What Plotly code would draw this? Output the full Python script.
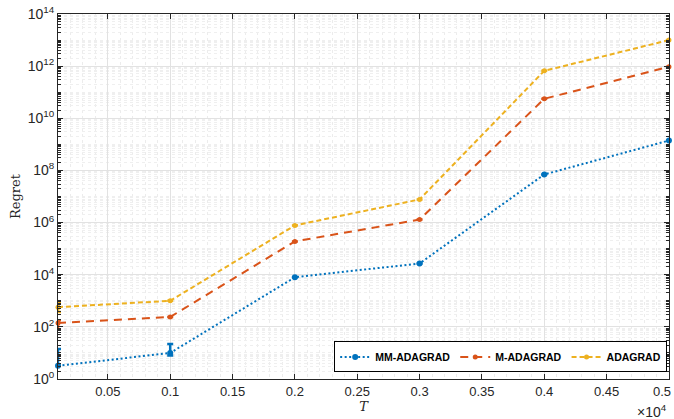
import plotly.graph_objects as go

T = [100, 1000, 2000, 3000, 4000, 5000]
mm_adagrad = [3.2, 10, 8e3, 2.7e4, 7e7, 1.4e9]
mm_err_plus = [11, 12, 0, 0, 0, 0]
mm_err_minus = [0, 2, 0, 0, 0, 0]
m_adagrad = [1.4e2, 2.4e2, 1.9e5, 1.3e6, 5.6e10, 9.4e11]
m_err_plus = [40, 0, 0, 0, 0, 0]
m_err_minus = [60, 0, 0, 0, 0, 0]
adagrad = [5.7e2, 1.0e3, 7.8e5, 7.7e6, 6.6e11, 1.0e13]
a_err_plus = [250, 0, 0, 0, 0, 0]
a_err_minus = [200, 0, 0, 0, 0, 0]

x_tickvals = [500, 1000, 1500, 2000, 2500, 3000, 3500, 4000, 4500, 5000]
x_ticktext = ["0.05", "0.1", "0.15", "0.2", "0.25", "0.3", "0.35", "0.4", "0.45", "0.5"]
y_exps = [0, 2, 4, 6, 8, 10, 12, 14]

colors = ["#0072BD", "#D95319", "#EDB120"]

fig = go.Figure()
series = [
    ("MM-ADAGRAD", mm_adagrad, mm_err_plus, mm_err_minus, colors[0], "2px,2.5px", 6),
    ("M-ADAGRAD", m_adagrad, m_err_plus, m_err_minus, colors[1], "8px,6px", 5),
    ("ADAGRAD", adagrad, a_err_plus, a_err_minus, colors[2], "5px,3px", 5),
]
for name, vals, ep, em, col, dash, ms in series:
    fig.add_trace(go.Scatter(
        x=T, y=vals, name=name, mode="lines+markers",
        line=dict(color=col, width=2, dash=dash),
        marker=dict(color=col, size=ms, symbol="circle"),
        error_y=dict(type="data", array=ep, arrayminus=em, symmetric=False,
                     color=col, thickness=2.5, width=3),
        cliponaxis=False,
    ))

minor_y = []
for e in range(0, 14):
    for k in range(2, 10):
        minor_y.append(k * 10 ** e)
    if e % 2 == 1:
        minor_y.append(10 ** e)

axis_col = "#262626"
fig.update_layout(
    width=674, height=419,
    margin=dict(l=58, r=4, t=12, b=40),
    plot_bgcolor="white", paper_bgcolor="white",
    font=dict(family="Liberation Sans, Arial, Helvetica", size=13, color=axis_col),
    showlegend=True,
    legend=dict(orientation="h", x=0.997, xanchor="right", y=0.018, yanchor="bottom",
                bgcolor="white", bordercolor="#000000", borderwidth=1,
                font=dict(family="Liberation Sans, Arial", size=10.5, color="#000000", weight="bold"),
                itemwidth=30, tracegroupgap=0),
    xaxis=dict(
        range=[100, 5000.5], tickvals=x_tickvals, ticktext=x_ticktext,
        showline=True, linecolor=axis_col, linewidth=1, mirror="ticks",
        ticks="inside", ticklen=5, tickcolor=axis_col,
        showgrid=True, gridcolor="#e2e2e2", gridwidth=1, zeroline=False,
        minor=dict(dtick=100, showgrid=True, gridcolor="#ececec", griddash="dot", ticks=""),
        title=dict(text="<i>T</i>", font=dict(family="DejaVu Serif, Liberation Serif", size=13), standoff=2),
        tickfont=dict(size=13),
    ),
    yaxis=dict(
        type="log", range=[0, 14],
        tickvals=[10 ** e for e in y_exps],
        ticktext=["10<sup>%d</sup>" % e for e in y_exps],
        showline=True, linecolor=axis_col, linewidth=1, mirror="ticks",
        ticks="inside", ticklen=5, tickcolor=axis_col,
        showgrid=True, gridcolor="#e2e2e2", gridwidth=1, zeroline=False,
        minor=dict(tickvals=minor_y, showgrid=True, gridcolor="#efefef", griddash="dot",
                   ticks="inside", ticklen=3, tickcolor=axis_col),
        title=dict(text="Regret", font=dict(family="DejaVu Serif, Liberation Serif", size=13), standoff=4),
        tickfont=dict(size=14),
    ),
)
# last x tick label (hidden by plotly at the edge) drawn as annotation
fig.add_annotation(x=1, y=0, xref="paper", yref="paper", xanchor="right", yanchor="top",
                   yshift=-3, xshift=4, text=x_ticktext[-1], showarrow=False,
                   font=dict(size=13, color=axis_col))
fig.add_annotation(x=1, y=-0.058, xref="paper", yref="paper", xanchor="right", yanchor="top",
                   text="×10<sup>4</sup>", showarrow=False, font=dict(size=14, color=axis_col))
fig.write_html("out.html", config={"displayModeBar": False},
               post_script="document.body.style.margin='0';document.body.style.overflow='hidden';")
